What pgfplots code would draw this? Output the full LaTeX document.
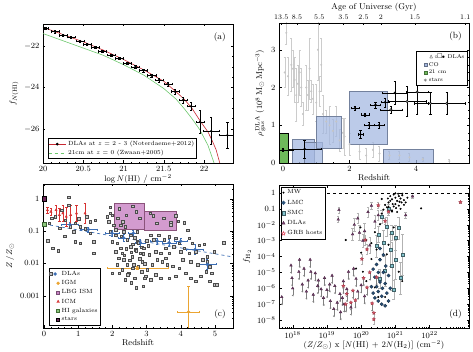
\documentclass[border=0pt]{standalone}
\usepackage{pgfplots}
\pgfplotsset{compat=1.18}
\usepackage{pgfplotstable}
\usepackage{amssymb}

\definecolor{dlared}{RGB}{200,40,50}
\definecolor{hiGreen}{RGB}{110,200,110}
\definecolor{coblue}{RGB}{165,185,225}
\definecolor{cogreen}{RGB}{110,185,90}
\definecolor{lbgmag}{RGB}{200,130,195}
\definecolor{dlablue}{RGB}{60,110,180}
\definecolor{igmorange}{RGB}{235,165,50}
\definecolor{icmred}{RGB}{215,50,50}
\definecolor{starpurple}{RGB}{110,40,90}
\definecolor{lmcblue}{RGB}{40,80,120}
\definecolor{smccyan}{RGB}{130,195,205}
\definecolor{dlapurple}{RGB}{125,65,115}
\definecolor{grbred}{RGB}{225,80,100}

\pgfdeclareplotmark{fstar}{%
  \pgfpathmoveto{\pgfpointpolar{90}{\pgfplotmarksize}}%
  \pgfpathlineto{\pgfpointpolar{126}{0.45\pgfplotmarksize}}%
  \pgfpathlineto{\pgfpointpolar{162}{\pgfplotmarksize}}%
  \pgfpathlineto{\pgfpointpolar{198}{0.45\pgfplotmarksize}}%
  \pgfpathlineto{\pgfpointpolar{234}{\pgfplotmarksize}}%
  \pgfpathlineto{\pgfpointpolar{270}{0.45\pgfplotmarksize}}%
  \pgfpathlineto{\pgfpointpolar{306}{\pgfplotmarksize}}%
  \pgfpathlineto{\pgfpointpolar{342}{0.45\pgfplotmarksize}}%
  \pgfpathlineto{\pgfpointpolar{18}{\pgfplotmarksize}}%
  \pgfpathlineto{\pgfpointpolar{54}{0.45\pgfplotmarksize}}%
  \pgfpathclose\pgfusepathqfillstroke}

\pgfplotsset{
  myax/.style={scale only axis, width=190pt, anchor=south west, tick align=inside,
    font=\fontsize{8}{9}\selectfont,
    tick label style={font=\fontsize{8}{9}\selectfont},
    label style={font=\fontsize{8.5}{10}\selectfont},
    major tick length=2.5pt, minor tick length=1.3pt,
    every tick/.style={black,line width=0.35pt},
    axis line style={line width=0.5pt},
    legend cell align=left},
}

\begin{document}
\begin{tikzpicture}[x=1pt,y=1pt]
\path[use as bounding box] (0,0) rectangle (473,352);

%% ---------------- (a) ----------------
\begin{axis}[myax, at={(43pt,189pt)}, height=139pt,
  xmin=20, xmax=22.36, ymin=-27.64, ymax=-20.94,
  xtick={20,20.5,21,21.5,22}, xticklabels={20,20.5,21,21.5,22},
  ytick={-22,-24,-26}, minor x tick num=4, minor y tick num=3,
  xlabel={$\log N(\mathrm{HI})$ / cm$^{-2}$}, ylabel={$f_{N(\mathrm{HI})}$},
  xlabel style={yshift=4pt}, ylabel style={yshift=-1pt},
  legend style={at={(axis description cs:0.025,0.03)}, anchor=south west,
    font=\fontsize{6}{7}\selectfont, inner sep=0.5pt, row sep=-1pt, draw=black, line width=0.4pt}]
\addlegendimage{dlared, line width=0.6pt, mark=*, mark options={black, fill=black, mark size=1pt}}
\addlegendentry{DLAs at $z$ = 2 - 3 (Noterdaeme+2012)}
\addlegendimage{hiGreen, dashed, line width=0.6pt}
\addlegendentry{21cm at $z$ = 0 (Zwaan+2005)}
\addplot[forget plot, hiGreen, line width=0.6pt] coordinates {
(20.0,-21.4)(20.25,-21.75)(20.5,-22.1)(20.75,-22.45)(21.0,-22.9)(21.25,-23.4)(21.5,-24.05)
(21.65,-24.55)(21.75,-25.0)(21.85,-25.5)(21.95,-26.05)(22.05,-26.8)(22.13,-27.7)};
\addplot[forget plot, dlared, line width=0.6pt] coordinates {
(20.0,-21.1)(20.25,-21.45)(20.5,-21.8)(20.75,-22.2)(21.0,-22.65)(21.25,-23.15)(21.5,-23.7)
(21.65,-24.2)(21.75,-24.55)(21.85,-25.0)(21.95,-25.6)(22.05,-26.15)(22.1,-26.55)(22.15,-27.0)(22.2,-27.7)};
\addplot[forget plot, only marks, mark=*, mark size=0.9pt, black,
  error bars/.cd, x dir=both, x explicit, y dir=both, y explicit,
  error bar style={line width=0.35pt}, error mark options={rotate=90, mark size=1.2pt}]
  table[x=x, y=y, x error=ex, y error=ey] {
x y ex ey
20.03 -21.15 0.03 0.05
20.15 -21.31 0.05 0.05
20.25 -21.50 0.05 0.05
20.35 -21.58 0.05 0.05
20.46 -21.76 0.05 0.05
20.55 -21.92 0.05 0.05
20.65 -22.08 0.05 0.05
20.74 -22.27 0.05 0.05
20.85 -22.43 0.05 0.05
20.95 -22.60 0.05 0.05
21.05 -22.84 0.05 0.06
21.15 -23.00 0.05 0.06
21.25 -23.19 0.05 0.07
21.35 -23.43 0.05 0.08
21.44 -23.64 0.05 0.09
21.55 -23.84 0.05 0.10
21.64 -24.20 0.05 0.12
21.74 -24.60 0.05 0.15
21.84 -24.90 0.05 0.20
21.95 -25.65 0.05 0.55
22.09 -26.10 0.10 0.65
22.29 -26.30 0.10 0.65
};
\node[anchor=north east, font=\fontsize{9}{10}\selectfont] at (rel axis cs:0.98,0.96) {(a)};
\end{axis}

%% ---------------- (b) ----------------
\begin{axis}[myax, at={(279pt,189pt)}, height=140pt,
  xmin=-0.12, xmax=5.59, ymin=0, ymax=3.71,
  xtick={0,2,4}, ytick={0,1,2,3}, minor x tick num=3, minor y tick num=4,
  xtick pos=left,
  xlabel={Redshift}, xlabel style={yshift=4pt},
  ylabel={$\rho_{\rm gas}^{\rm DLA}$ ($10^8$\,M$_\odot$\,Mpc$^{-3}$)}, ylabel style={yshift=-1pt},
  legend style={at={(axis description cs:0.99,0.80)}, anchor=north east,
    font=\fontsize{5.5}{6}\selectfont, inner sep=0.5pt, row sep=-1.5pt, draw=black, line width=0.4pt}]
\addlegendimage{empty legend}
\addlegendentry{$\vartriangle\!\circ\!\square\!\bullet$ DLAs}
\addlegendimage{only marks, mark=square*, mark size=1.5pt, mark options={fill=coblue, draw=coblue!60!black}}
\addlegendentry{CO}
\addlegendimage{only marks, mark=square*, mark size=1.5pt, mark options={fill=cogreen, draw=cogreen!60!black}}
\addlegendentry{21 cm}
\addlegendimage{only marks, mark=asterisk, mark size=1.5pt, gray}
\addlegendentry{stars}
% grey points
\addplot[forget plot, only marks, mark=*, mark size=0.8pt, gray!45,
  error bars/.cd, y dir=both, y explicit, error bar style={gray!40, line width=0.3pt},
  error mark options={rotate=90, mark size=1pt, gray!40}]
  table[x=z, y=r, y error=e] {
z r e
0.10 3.45 0.30
0.05 2.40 0.40
0.15 2.30 0.50
0.25 2.60 0.70
0.30 2.50 0.50
0.35 2.20 0.60
0.40 1.80 0.70
0.45 2.10 0.50
0.50 2.40 0.60
0.55 2.00 0.50
0.60 1.30 0.30
0.70 2.00 0.60
0.75 1.80 0.40
0.80 2.50 0.80
0.85 1.90 0.30
0.90 1.70 0.40
1.00 1.60 0.50
1.05 3.00 0.80
1.10 1.90 0.40
1.15 2.60 0.70
1.20 1.30 0.50
1.30 1.10 0.30
1.40 1.00 0.50
1.50 0.85 0.30
1.60 1.10 0.40
1.70 0.60 0.30
1.80 0.80 0.40
1.85 0.70 0.50
2.00 0.50 0.30
2.30 0.30 0.20
2.50 0.20 0.20
2.70 0.35 0.20
2.90 0.25 0.20
3.20 0.20 0.10
3.50 0.20 0.10
3.80 0.15 0.10
4.20 0.10 0.05
5.00 0.05 0.05
};
% CO boxes
\addplot[forget plot, fill=coblue, fill opacity=0.75, draw=coblue!70!black, line width=0.3pt] coordinates {(0.27,0)(0.27,0.62)(0.95,0.62)(0.95,0)} -- cycle;
\addplot[forget plot, fill=coblue, fill opacity=0.75, draw=coblue!70!black, line width=0.3pt] coordinates {(0.64,0)(0.64,0.54)(1.18,0.54)(1.18,0)} -- cycle;
\addplot[forget plot, fill=coblue, fill opacity=0.75, draw=coblue!70!black, line width=0.3pt] coordinates {(1.0,0.4)(1.0,1.25)(1.76,1.25)(1.76,0.4)} -- cycle;
\addplot[forget plot, fill=coblue, fill opacity=0.75, draw=coblue!70!black, line width=0.3pt] coordinates {(2.0,0.49)(2.0,1.91)(3.14,1.91)(3.14,0.49)} -- cycle;
\addplot[forget plot, fill=coblue, fill opacity=0.75, draw=coblue!70!black, line width=0.3pt] coordinates {(3.02,0)(3.02,0.37)(4.5,0.37)(4.5,0)} -- cycle;
\addplot[forget plot, fill=cogreen, draw=black, line width=0.4pt] coordinates {(-0.1,0)(-0.1,0.8)(0.15,0.8)(0.15,0)} -- cycle;
% DLA points
\addplot[forget plot, only marks, mark=*, mark size=1pt, black,
  error bars/.cd, x dir=both, x explicit, y dir=both, y explicit,
  error bar style={line width=0.35pt}, error mark options={rotate=90, mark size=1.2pt}]
  table[x=z, y=r, x error=ex, y error=ey] {
z r ex ey
0.00 0.35 0.30 0.05
0.65 0.37 0.50 0.23
2.16 1.45 0.12 0.06
2.46 1.28 0.12 0.05
2.33 0.76 0.08 0.10
2.59 1.00 0.15 0.08
2.89 1.00 0.15 0.08
2.78 1.54 0.15 0.08
3.07 1.61 0.12 0.12
3.36 1.86 0.37 0.30
};
\addplot[forget plot, only marks, mark=*, mark size=1.2pt, draw=black, fill=gray!70,
  error bars/.cd, x dir=both, x explicit, y dir=both, y explicit,
  error bar style={line width=0.35pt}, error mark options={rotate=90, mark size=1.2pt}]
  table[x=z, y=r, x error=ex, y error=ey] {
z r ex ey
3.24 1.41 0.33 0.10
3.73 1.63 0.57 0.40
4.03 1.88 0.33 0.60
4.43 1.58 0.50 0.30
4.92 1.58 0.55 0.30
};
\node[anchor=north east, font=\fontsize{9}{10}\selectfont] at (rel axis cs:0.98,0.96) {(b)};
\end{axis}
% top age axis
\begin{axis}[myax, at={(279pt,189pt)}, height=140pt,
  xmin=-0.12, xmax=5.59, ymin=0, ymax=3.71,
  axis x line*=top, axis y line=none,
  tick label style={font=\fontsize{7}{8}\selectfont},
  xtick={-0.05,0.42,1.09,1.82,2.42,2.94,3.97,5.48},
  xticklabels={13.5,8.5,5.5,3.5,2.5,2,1.5,1.1},
  xlabel={Age of Universe (Gyr)}, xlabel style={yshift=-4pt}]
\end{axis}

%% ---------------- (c) ----------------
\begin{axis}[myax, at={(43pt,24pt)}, height=144pt,
  xmin=-0.03, xmax=5.53, ymin=-4.0, ymax=0.46,
  xtick={0,1,2,3,4,5}, minor x tick num=4,
  ytick={-3,-2,-1,0}, yticklabels={0.001,0.01,0.1,1},
  minor ytick={-3.699,-3.523,-3.398,-3.301,-3.222,-3.155,-3.097,-3.046,
    -2.699,-2.523,-2.398,-2.301,-2.222,-2.155,-2.097,-2.046,
    -1.699,-1.523,-1.398,-1.301,-1.222,-1.155,-1.097,-1.046,
    -0.699,-0.523,-0.398,-0.301,-0.222,-0.155,-0.097,-0.046,0.301},
  xlabel={Redshift}, xlabel style={yshift=4pt},
  ylabel={$Z\,/\,Z_\odot$}, ylabel style={yshift=-1pt},
  legend style={at={(axis description cs:0.03,0.02)}, anchor=south west,
    font=\fontsize{6}{7}\selectfont, inner sep=0.5pt, row sep=-0.5pt, draw=black, line width=0.4pt}]
\addlegendimage{legend image code/.code={\draw[fill=gray!50, draw=black!70] (0pt,-1.4pt) rectangle (2.8pt,1.4pt); \fill[dlablue] (5.5pt,0pt) circle (1.5pt);}}
\addlegendentry{DLAs}
\addlegendimage{only marks, mark=*, mark size=1.4pt, igmorange}
\addlegendentry{IGM}
\addlegendimage{only marks, mark=square*, mark size=1.5pt, mark options={fill=lbgmag, draw=lbgmag!60!black}}
\addlegendentry{LBG ISM}
\addlegendimage{only marks, mark=triangle*, mark size=1.5pt, icmred}
\addlegendentry{ICM}
\addlegendimage{only marks, mark=square*, mark size=1.5pt, mark options={fill=cogreen!80, draw=cogreen!60!black}}
\addlegendentry{HI galaxies}
\addlegendimage{only marks, mark=square*, mark size=1.5pt, mark options={fill=starpurple, draw=black}}
\addlegendentry{stars}
% LBG boxes
\addplot[forget plot, fill=lbgmag, fill opacity=0.8, draw=starpurple!80, line width=0.3pt] coordinates {(2.04,-0.93)(2.04,-0.13)(2.94,-0.13)(2.94,-0.93)} -- cycle;
\addplot[forget plot, fill=lbgmag, fill opacity=0.8, draw=starpurple!80, line width=0.3pt] coordinates {(2.94,-0.98)(2.94,-0.37)(3.87,-0.37)(3.87,-0.98)} -- cycle;
% DLA squares
\addplot[forget plot, only marks, mark=square*, mark size=1.25pt, mark options={fill=gray!45, draw=black!70, line width=0.3pt}]
  table {
z l
0.10 -1.30
0.25 -1.52
0.42 -1.60
0.23 -0.60
0.32 -0.55
0.52 -0.35
0.62 -0.66
0.72 -0.20
0.72 0.05
0.77 -0.86
0.86 -1.02
0.91 -0.76
0.91 -1.32
1.01 -0.61
1.06 -0.86
1.06 -1.37
1.21 -0.92
1.35 -0.71
1.35 -1.07
1.45 -1.32
1.45 -1.68
1.50 -0.66
0.60 -1.15
0.45 -0.90
0.15 -0.75
1.25 -0.55
1.84 -0.55
1.89 -0.71
1.94 -0.25
1.94 -0.45
1.94 -1.02
2.00 -0.50
2.00 -1.32
2.00 -2.30
2.04 -0.81
2.09 -1.12
2.09 -1.63
2.14 -1.37
2.14 -2.04
2.19 -1.84
2.24 -0.81
2.24 -1.53
2.29 -1.68
2.29 -2.20
2.33 -1.02
2.33 -1.89
2.38 -0.86
2.38 -2.50
2.43 -1.27
2.43 -2.04
2.48 -2.30
2.53 -1.12
2.53 -1.48
2.58 -1.79
2.63 -2.04
2.68 -1.58
2.72 -1.02
2.72 -1.32
2.65 -1.20
2.75 -1.35
2.85 -1.50
2.70 -1.60
2.90 -1.70
2.80 -1.85
2.95 -2.00
2.75 -2.10
2.85 -2.25
2.95 -2.45
2.65 -2.45
2.90 -2.70
3.00 -1.30
3.05 -1.45
2.60 -1.40
2.55 -1.65
2.40 -1.55
2.35 -1.75
2.50 -1.90
2.60 -2.15
2.45 -2.35
2.55 -2.60
2.70 -2.75
2.20 -2.30
2.10 -0.95
2.25 -1.15
2.15 -0.60
3.71 -0.73
3.92 -0.69
4.10 -0.73
4.20 -0.97
4.25 -1.22
4.34 -1.37
4.54 -1.43
4.69 -1.41
4.98 -1.63
4.44 -1.63
4.25 -1.68
4.10 -1.53
3.95 -1.37
3.80 -1.48
3.66 -1.68
3.56 -1.83
3.60 -2.04
3.76 -2.09
3.95 -2.14
4.15 -2.30
4.29 -2.45
4.44 -2.55
4.59 -2.40
4.74 -2.25
4.85 -2.55
4.98 -2.66
5.05 -2.66
3.26 -2.35
3.41 -2.45
3.66 -2.45
3.85 -2.40
3.12 -2.50
2.97 -2.40
3.17 -2.04
3.31 -1.89
3.46 -1.94
3.07 -1.73
3.26 -1.63
3.41 -1.68
3.56 -1.53
2.92 -1.53
2.82 -1.68
2.87 -1.94
3.02 -2.20
4.00 -1.63
4.05 -1.89
4.29 -1.94
4.49 -2.04
4.64 -1.89
4.78 -1.79
4.78 -1.94
3.12 -1.12
3.21 -1.27
3.36 -1.12
3.51 -1.27
3.66 -1.17
3.85 -1.22
5.25 -1.35
4.85 -2.10
4.90 -2.30
2.20 -0.30
2.40 -0.50
2.60 -0.22
2.80 -0.60
2.30 -0.70
2.70 -0.40
3.20 -0.52
3.50 -0.60
3.70 -0.80
3.30 -0.75
3.85 -0.52
3.10 -0.45
};
% fit line
\addplot[forget plot, dlablue, dashed, line width=0.7pt] coordinates {(0,-0.78)(5.53,-1.80)};
% binned DLA
\addplot[forget plot, only marks, mark=*, mark size=1.5pt, dlablue,
  error bars/.cd, x dir=both, x explicit, y dir=both, y explicit,
  error bar style={dlablue, line width=0.5pt}, error mark options={rotate=90, mark size=1pt, dlablue}]
  table[x=z, y=l, x error=ex, y error=ey] {
z l ex ey
0.76 -0.80 0.25 0.08
1.30 -0.95 0.25 0.08
1.99 -1.06 0.20 0.10
2.33 -1.21 0.15 0.10
2.61 -1.06 0.15 0.10
2.82 -1.36 0.15 0.10
3.31 -1.31 0.20 0.10
3.66 -1.36 0.20 0.10
4.00 -1.31 0.20 0.10
4.42 -1.57 0.25 0.15
4.78 -2.03 0.25 0.15
};
% ICM
\addplot[forget plot, only marks, mark=triangle*, mark size=1.3pt, icmred,
  error bars/.cd, y dir=both, y explicit,
  error bar style={icmred, line width=0.4pt}, error mark options={rotate=90, mark size=1.3pt, icmred}]
  table[x=z, y=l, y error=ey] {
z l ey
0.10 -0.35 0.10
0.20 -0.40 0.12
0.35 -0.35 0.15
0.45 -0.50 0.20
0.55 -0.45 0.25
0.65 -0.55 0.30
0.78 -0.50 0.30
0.95 -0.45 0.25
1.20 -0.45 0.30
};
% IGM
\addplot[forget plot, only marks, mark=*, mark size=1.4pt, igmorange,
  error bars/.cd, x dir=both, x explicit, y dir=both, y explicit,
  error bar style={igmorange, line width=0.4pt}, error mark options={rotate=90, mark size=1.2pt, igmorange}]
  table[x=z, y=l, x error=ex, y error=ey] {
z l ex ey
2.74 -2.14 0.90 0.05
4.23 -3.50 0.32 0.78
};
% HI galaxies and stars
\addplot[forget plot, only marks, mark=square*, mark size=2.2pt, mark options={fill=cogreen!80, draw=cogreen!50!black}] coordinates {(0.0,-0.78)};
\addplot[forget plot, only marks, mark=square*, mark size=2.2pt, mark options={fill=starpurple, draw=black}] coordinates {(0.0,0.0)};
\node[anchor=south east, font=\fontsize{9}{10}\selectfont] at (rel axis cs:0.98,0.04) {(c)};
\end{axis}

%% ---------------- (d) ----------------
\begin{axis}[myax, at={(279pt,24pt)}, height=143pt,
  xmin=17.6, xmax=23.15, ymin=-8.5, ymax=0.5,
  xtick={18,19,20,21,22}, xticklabels={$10^{18}$,$10^{19}$,$10^{20}$,$10^{21}$,$10^{22}$},
  minor xtick={17.699,17.778,17.845,17.903,17.954,
    18.301,18.477,18.602,18.699,18.778,18.845,18.903,18.954,
    19.301,19.477,19.602,19.699,19.778,19.845,19.903,19.954,
    20.301,20.477,20.602,20.699,20.778,20.845,20.903,20.954,
    21.301,21.477,21.602,21.699,21.778,21.845,21.903,21.954,
    22.301,22.477,22.602,22.699,22.778,22.845,22.903,22.954,23},
  ytick={-8,-7,-6,-5,-4,-3,-2,-1,0},
  yticklabels={$10^{-8}$,$10^{-7}$,$10^{-6}$,$10^{-5}$,$10^{-4}$,$10^{-3}$,$10^{-2}$,0.1,1},
  minor ytick={-8.398,-8.301,-8.222,-8.155,-8.097,-8.046,
    -7.699,-7.523,-7.398,-7.301,-7.222,-7.155,-7.097,-7.046,
    -6.699,-6.523,-6.398,-6.301,-6.222,-6.155,-6.097,-6.046,
    -5.699,-5.523,-5.398,-5.301,-5.222,-5.155,-5.097,-5.046,
    -4.699,-4.523,-4.398,-4.301,-4.222,-4.155,-4.097,-4.046,
    -3.699,-3.523,-3.398,-3.301,-3.222,-3.155,-3.097,-3.046,
    -2.699,-2.523,-2.398,-2.301,-2.222,-2.155,-2.097,-2.046,
    -1.699,-1.523,-1.398,-1.301,-1.222,-1.155,-1.097,-1.046,
    -0.699,-0.523,-0.398,-0.301,-0.222,-0.155,-0.097,-0.046,0.301,0.477},
  xlabel={$(Z/Z_\odot)$ x [$N$(HI) + 2$N$(H$_2$)] (cm$^{-2}$)}, xlabel style={yshift=4pt},
  ylabel={$f_{\mathrm{H}_2}$}, ylabel style={yshift=-1pt},
  legend style={at={(axis description cs:0.01,0.985)}, anchor=north west,
    font=\fontsize{6}{7}\selectfont, inner sep=0.5pt, row sep=0.5pt, draw=black, line width=0.4pt}]
\addlegendimage{only marks, mark=*, mark size=0.8pt, black}
\addlegendentry{MW}
\addlegendimage{only marks, mark=*, mark size=1.8pt, lmcblue}
\addlegendentry{LMC}
\addlegendimage{only marks, mark=square*, mark size=1.8pt, mark options={fill=smccyan, draw=smccyan!50!black}}
\addlegendentry{SMC}
\addlegendimage{only marks, mark=triangle*, mark size=1.9pt, mark options={fill=dlapurple, draw=dlapurple!60!black}}
\addlegendentry{DLAs}
\addlegendimage{only marks, mark=fstar, mark size=2pt, mark options={fill=white, draw=grbred, line width=0.5pt}}
\addlegendentry{GRB hosts}
\addplot[forget plot, black, dashed, line width=0.4pt] coordinates {(17.6,0)(23.15,0)};
% SMC with errors
\addplot[forget plot, only marks, mark=square*, mark size=1.5pt, mark options={fill=smccyan, draw=smccyan!50!black},
  error bars/.cd, y dir=both, y explicit, error bar style={gray!60, line width=0.35pt},
  error mark options={rotate=90, mark size=1.5pt, gray!60}]
  table[x=x, y=y, y error=e] {
x y e
20.60 -1.50 0.40
20.75 -2.10 0.60
20.90 -2.50 0.50
21.00 -2.80 0.80
21.00 -4.20 1.20
21.15 -5.35 1.00
21.20 -3.90 1.30
20.65 -3.15 0.80
20.70 -4.90 1.00
20.45 -3.35 0.70
20.55 -5.40 0.60
20.80 -1.00 0.30
20.90 -4.60 1.50
20.50 -2.60 0.50
21.10 -2.20 0.70
20.95 -6.10 0.60
20.85 -3.60 1.00
};
% DLA detections
\addplot[forget plot, only marks, mark=triangle*, mark size=1.5pt, mark options={fill=dlapurple, draw=dlapurple!60!black},
  error bars/.cd, y dir=both, y explicit, error bar style={gray!60, line width=0.35pt},
  error mark options={rotate=90, mark size=1.2pt, gray!60}]
  table[x=x, y=y, y error=e] {
x y e
19.35 -1.07 0.20
19.33 -1.67 0.20
19.80 -2.00 0.40
19.90 -1.60 0.30
19.95 -2.50 0.50
20.05 -3.00 0.40
20.20 -1.20 0.30
20.30 -0.80 0.20
20.40 -1.80 0.40
20.10 -2.40 0.50
21.30 -1.40 0.20
21.50 -0.22 0.10
20.50 -1.40 0.30
19.75 -2.60 0.40
20.25 -3.30 0.50
};
% DLA limits
\addplot[forget plot, only marks, mark=triangle*, mark size=1.5pt, mark options={fill=dlapurple, draw=dlapurple!60!black},
  error bars/.cd, y dir=minus, y fixed=0.45, error bar style={gray, line width=0.35pt},
  error mark=triangle*, error mark options={rotate=180, mark size=0.8pt, gray}]
  table {
x y
17.56 -5.95
17.68 -6.55
17.95 -4.56
17.98 -5.35
18.18 -4.96
18.33 -4.76
18.51 -4.20
18.53 -4.96
18.66 -5.05
18.73 -5.85
18.93 -5.35
19.08 -5.75
19.23 -5.85
19.48 -5.55
19.58 -6.05
19.63 -4.96
19.78 -4.76
19.38 -6.35
18.83 -6.05
18.28 -5.75
18.40 -6.20
18.60 -6.40
18.90 -6.60
19.10 -6.80
19.30 -6.90
19.50 -7.00
19.70 -7.20
19.90 -6.20
20.00 -5.80
20.10 -6.50
18.20 -4.20
18.00 -6.00
18.75 -5.50
19.00 -6.10
19.15 -5.20
19.45 -6.60
19.85 -5.40
18.45 -5.50
19.20 -7.30
19.40 -7.50
};
% MW
\addplot[forget plot, only marks, mark=*, mark size=0.8pt, black] table {
x y
20.85 -0.20
20.90 -0.40
20.95 -0.10
21.00 -0.30
21.05 -0.50
21.10 -0.20
21.15 -0.35
21.20 -0.15
21.25 -0.45
21.30 -0.60
21.00 -0.70
20.95 -0.85
20.80 -0.60
20.75 -0.90
21.10 -0.80
21.15 -1.00
20.90 -1.10
21.05 -1.20
21.20 -0.05
21.00 -0.02
20.85 -0.50
20.70 -0.75
20.65 -1.05
21.25 -0.75
21.12 -0.55
21.02 -0.95
20.92 -0.70
20.78 -0.35
21.35 -0.30
20.60 -1.30
21.08 -0.05
21.18 -0.60
21.75 -0.97
19.98 -2.17
20.15 -2.96
20.30 -3.16
20.40 -2.47
20.55 -1.97
20.00 -3.76
19.85 -4.76
20.05 -4.96
20.15 -5.55
20.30 -4.16
20.45 -3.56
20.55 -4.16
20.65 -4.96
20.75 -3.86
20.80 -3.26
20.95 -2.17
21.10 -4.96
21.20 -5.55
20.40 -5.95
20.50 -6.55
20.70 -6.55
19.55 -2.96
20.90 -1.17
20.80 -0.88
20.60 -0.38
};
% LMC
\addplot[forget plot, only marks, mark=*, mark size=1.6pt, mark options={fill=lmcblue, draw=lmcblue!60!black}] table {
x y
20.35 -4.80
20.40 -5.30
20.45 -5.90
20.50 -6.20
20.55 -5.60
20.60 -6.50
20.65 -5.00
20.70 -5.70
20.75 -6.30
20.80 -6.80
20.50 -6.80
20.60 -7.00
20.70 -7.10
20.45 -4.50
20.55 -4.20
20.65 -3.90
20.80 -5.20
20.85 -6.00
20.40 -6.60
20.30 -5.90
20.55 -3.50
20.72 -4.60
20.62 -6.00
20.50 -5.00
20.35 -6.30
};
% GRB limits
\addplot[forget plot, only marks, mark=fstar, mark size=1.8pt, mark options={fill=grbred, draw=grbred!70!black, line width=0.3pt},
  error bars/.cd, y dir=minus, y fixed=0.45, error bar style={gray, line width=0.35pt},
  error mark=triangle*, error mark options={rotate=180, mark size=0.8pt, gray}]
  table {
x y
19.48 -5.85
19.58 -6.35
19.76 -6.15
19.83 -6.75
20.07 -5.35
20.17 -5.95
20.32 -6.95
20.37 -7.55
19.55 -7.00
19.70 -6.90
20.45 -5.30
20.25 -5.00
};
% GRB detections
\addplot[forget plot, only marks, mark=fstar, mark size=1.8pt, mark options={fill=grbred, draw=grbred!70!black, line width=0.3pt},
  error bars/.cd, y dir=both, y explicit, error bar style={gray!60, line width=0.35pt},
  error mark options={rotate=90, mark size=1.2pt, gray!60}]
  table[x=x, y=y, y error=e] {
x y e
20.12 -2.96 0.30
20.17 -3.55 0.30
20.02 -4.16 0.30
20.70 -1.77 0.20
20.80 -1.17 0.20
20.50 -0.78 0.20
22.90 -0.58 0.05
20.37 -7.95 0.30
};
\node[anchor=south east, font=\fontsize{9}{10}\selectfont] at (rel axis cs:0.98,0.04) {(d)};
\end{axis}
\end{tikzpicture}
\end{document}
